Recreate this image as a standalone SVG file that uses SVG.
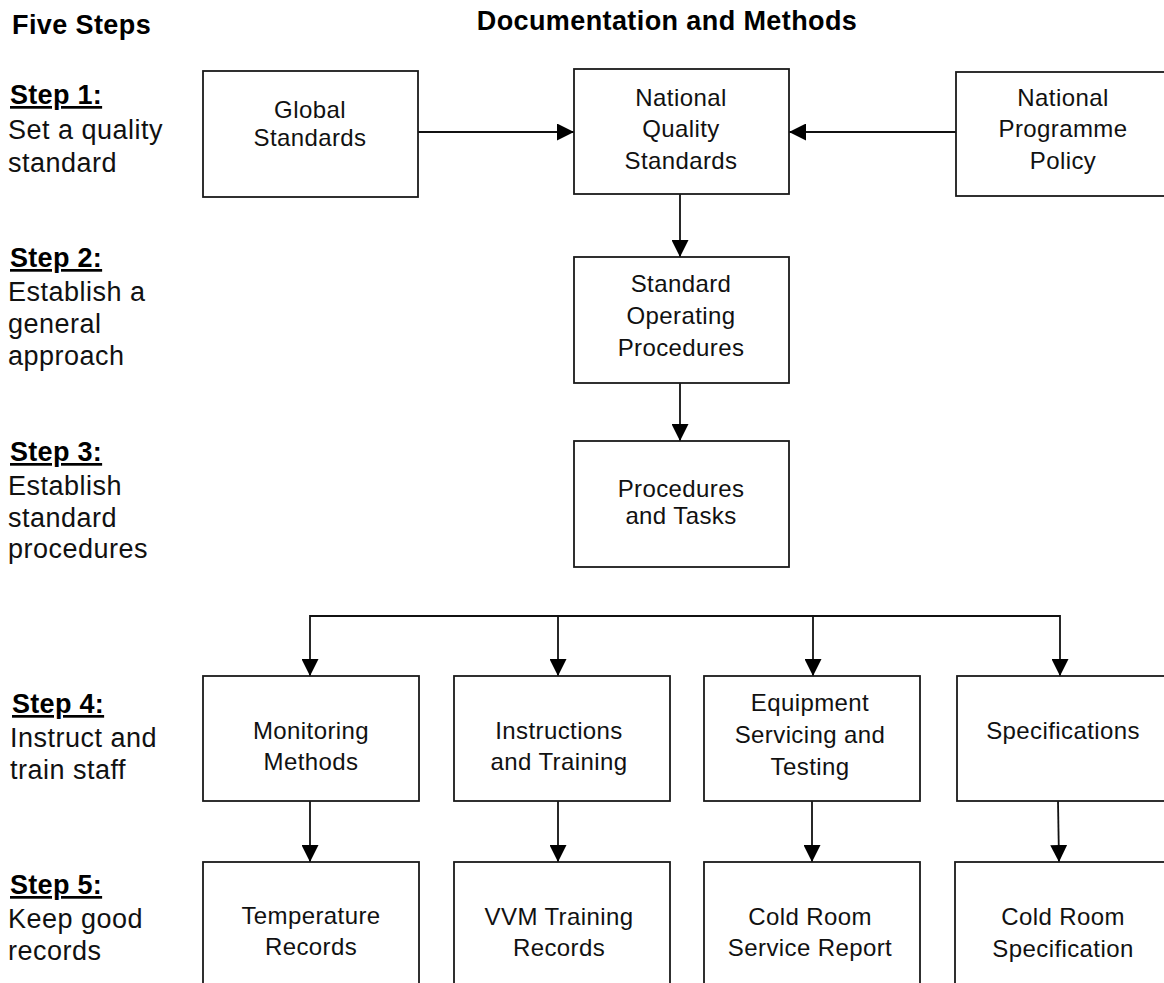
<svg xmlns="http://www.w3.org/2000/svg" width="1164" height="983" viewBox="0 0 1164 983">
<style>
  .box { fill: #ffffff; stroke: #1a1a1a; stroke-width: 1.8; }
  .t { font-family: "Liberation Sans", Arial, sans-serif; font-size: 24px; letter-spacing: 0.4px; fill: #111; text-anchor: middle; }
  .h { font-family: "Liberation Sans", Arial, sans-serif; font-size: 27px; font-weight: bold; letter-spacing: 0.4px; fill: #000; }
  .sh { font-family: "Liberation Sans", Arial, sans-serif; font-size: 27px; font-weight: bold; letter-spacing: 0.3px; fill: #000; text-decoration: underline; }
  .sl { font-family: "Liberation Sans", Arial, sans-serif; font-size: 27px; letter-spacing: 0.5px; fill: #111; }
  .c { fill: none; stroke: #111; stroke-width: 1.8; }
</style>
<defs>
  <marker id="arr" viewBox="0 0 10 10" refX="10" refY="5" markerUnits="userSpaceOnUse" markerWidth="17" markerHeight="17" orient="auto">
    <path d="M0,0 L10,5 L0,10 Z" fill="#000"/>
  </marker>
</defs>
<rect width="1164" height="983" fill="#ffffff"/>

<g id="headings">
  <text class="h" x="12" y="34">Five Steps</text>
  <text class="h" x="667" y="30" text-anchor="middle">Documentation and Methods</text>
</g>

<g id="steps">
  <text class="sh" x="10" y="104">Step 1:</text>
  <text class="sl" x="8" y="139">Set a quality</text>
  <text class="sl" x="8" y="172">standard</text>

  <text class="sh" x="10" y="267">Step 2:</text>
  <text class="sl" x="8" y="301">Establish a</text>
  <text class="sl" x="8" y="333">general</text>
  <text class="sl" x="8" y="365">approach</text>

  <text class="sh" x="10" y="461">Step 3:</text>
  <text class="sl" x="8" y="495">Establish</text>
  <text class="sl" x="8" y="527">standard</text>
  <text class="sl" x="8" y="558">procedures</text>

  <text class="sh" x="12" y="713">Step 4:</text>
  <text class="sl" x="10" y="747">Instruct and</text>
  <text class="sl" x="10" y="779">train staff</text>

  <text class="sh" x="10" y="894">Step 5:</text>
  <text class="sl" x="8" y="928">Keep good</text>
  <text class="sl" x="8" y="960">records</text>
</g>

<g id="connectors">
  <line class="c" x1="418" y1="132" x2="574" y2="132" marker-end="url(#arr)"/>
  <line class="c" x1="956" y1="132" x2="789" y2="132" marker-end="url(#arr)"/>
  <line class="c" x1="680" y1="194" x2="680" y2="257" marker-end="url(#arr)"/>
  <line class="c" x1="680" y1="383" x2="680" y2="441" marker-end="url(#arr)"/>
  <polyline class="c" points="310,616 1060,616"/>
  <line class="c" x1="310" y1="615" x2="310" y2="676" marker-end="url(#arr)"/>
  <line class="c" x1="558" y1="615" x2="558" y2="676" marker-end="url(#arr)"/>
  <line class="c" x1="813" y1="615" x2="813" y2="676" marker-end="url(#arr)"/>
  <line class="c" x1="1060" y1="615" x2="1060" y2="676" marker-end="url(#arr)"/>
  <line class="c" x1="310" y1="801" x2="310" y2="862" marker-end="url(#arr)"/>
  <line class="c" x1="558" y1="801" x2="558" y2="862" marker-end="url(#arr)"/>
  <line class="c" x1="812" y1="801" x2="812" y2="862" marker-end="url(#arr)"/>
  <line class="c" x1="1058" y1="801" x2="1059" y2="862" marker-end="url(#arr)"/>
</g>

<g id="global-standards">
  <rect class="box" x="203" y="71" width="215" height="126"/>
  <text class="t" x="310" y="118">Global</text>
  <text class="t" x="310" y="146">Standards</text>
</g>

<g id="national-quality-standards">
  <rect class="box" x="574" y="69" width="215" height="125"/>
  <text class="t" x="681" y="106">National</text>
  <text class="t" x="681" y="137">Quality</text>
  <text class="t" x="681" y="169">Standards</text>
</g>

<g id="national-programme-policy">
  <rect class="box" x="956" y="72" width="230" height="124"/>
  <text class="t" x="1063" y="106">National</text>
  <text class="t" x="1063" y="137">Programme</text>
  <text class="t" x="1063" y="169">Policy</text>
</g>

<g id="standard-operating-procedures">
  <rect class="box" x="574" y="257" width="215" height="126"/>
  <text class="t" x="681" y="292">Standard</text>
  <text class="t" x="681" y="324">Operating</text>
  <text class="t" x="681" y="356">Procedures</text>
</g>

<g id="procedures-and-tasks">
  <rect class="box" x="574" y="441" width="215" height="126"/>
  <text class="t" x="681" y="497">Procedures</text>
  <text class="t" x="681" y="524">and Tasks</text>
</g>

<g id="monitoring-methods">
  <rect class="box" x="203" y="676" width="216" height="125"/>
  <text class="t" x="311" y="739">Monitoring</text>
  <text class="t" x="311" y="770">Methods</text>
</g>

<g id="instructions-and-training">
  <rect class="box" x="454" y="676" width="216" height="125"/>
  <text class="t" x="559" y="739">Instructions</text>
  <text class="t" x="559" y="770">and Training</text>
</g>

<g id="equipment-servicing">
  <rect class="box" x="704" y="676" width="216" height="125"/>
  <text class="t" x="810" y="711">Equipment</text>
  <text class="t" x="810" y="743">Servicing and</text>
  <text class="t" x="810" y="775">Testing</text>
</g>

<g id="specifications">
  <rect class="box" x="957" y="676" width="230" height="125"/>
  <text class="t" x="1063" y="739">Specifications</text>
</g>

<g id="temperature-records">
  <rect class="box" x="203" y="862" width="216" height="140"/>
  <text class="t" x="311" y="924">Temperature</text>
  <text class="t" x="311" y="955">Records</text>
</g>

<g id="vvm-training-records">
  <rect class="box" x="454" y="862" width="216" height="140"/>
  <text class="t" x="559" y="925">VVM Training</text>
  <text class="t" x="559" y="956">Records</text>
</g>

<g id="cold-room-service-report">
  <rect class="box" x="704" y="862" width="216" height="140"/>
  <text class="t" x="810" y="925">Cold Room</text>
  <text class="t" x="810" y="956">Service Report</text>
</g>

<g id="cold-room-specification">
  <rect class="box" x="955" y="862" width="232" height="140"/>
  <text class="t" x="1063" y="925">Cold Room</text>
  <text class="t" x="1063" y="957">Specification</text>
</g>
</svg>
